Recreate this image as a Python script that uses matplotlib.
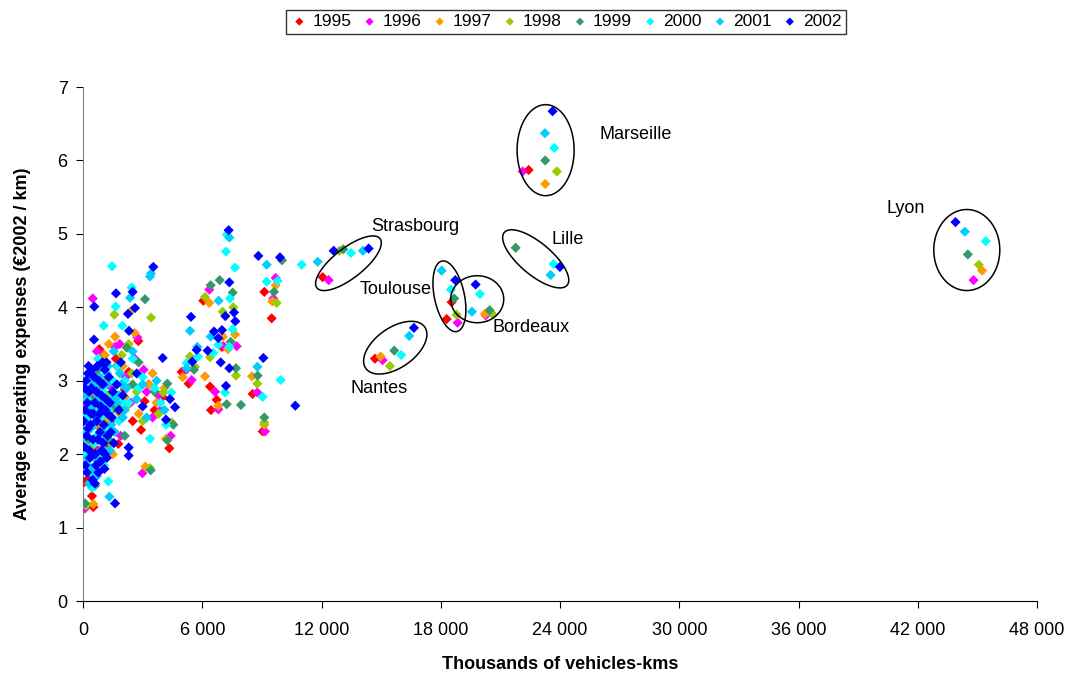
import numpy as np
import matplotlib.pyplot as plt
from matplotlib.patches import Polygon
from matplotlib.ticker import FuncFormatter

plt.rcParams['font.family'] = ['Liberation Sans', 'DejaVu Sans']

years = ['1995', '1996', '1997', '1998', '1999', '2000', '2001', '2002']
colors = ['#FF0000', '#FF00FF', '#FF9900', '#99CC00', '#339966', '#00FFFF', '#00CCFF', '#0000FF']

# (thousands of vehicle-kms, average operating expenses)
p1995 = [(60, 1.62), (285, 1.67), (450, 1.43), (520, 1.28), (700, 2.05), (900, 2.35), (1100, 2.55),
         (1300, 2.75), (1500, 2.95), (1778, 2.14), (1900, 2.62), (2100, 2.88), (2300, 3.12), (2500, 2.45),
         (2782, 3.54), (2917, 2.33), (3100, 2.72), (3300, 2.95), (3600, 2.60), (4000, 2.78), (4343, 2.08),
         (200, 2.30), (350, 2.85), (600, 3.05), (800, 1.92), (1000, 3.20), (1200, 2.15), (1650, 3.30),
         (150, 2.05), (400, 2.60), (1400, 2.45),
         (820, 3.43), (1056, 3.35), (4963, 3.12), (5315, 2.96), (6053, 4.09), (6389, 2.92), (6439, 2.60),
         (6724, 2.74), (6992, 3.46), (8535, 2.82), (9038, 2.31), (9122, 4.21), (9491, 3.85), (12056, 4.41),
         (14688, 3.30), (18294, 3.84), (18545, 4.07), (22419, 5.87)]
p1996 = [(100, 1.26), (488, 4.12), (300, 1.95), (600, 2.50), (850, 2.75), (1200, 3.10), (1450, 2.90),
         (1610, 3.46), (1900, 2.25), (2150, 3.05), (2400, 2.70), (2732, 3.59), (2985, 1.74), (3200, 2.85),
         (3500, 2.50), (3900, 2.60), (4410, 2.25), (700, 3.40), (1000, 2.20), (2600, 3.30), (3050, 3.15),
         (1850, 3.50), (3800, 2.80), (200, 2.65), (800, 2.05), (1300, 2.65),
         (5465, 3.01), (5200, 3.15), (6353, 4.24), (6640, 2.85), (6808, 2.61),
         (7076, 3.47), (7730, 3.47), (8770, 2.84), (9156, 2.31), (9575, 4.12), (9692, 4.40), (12358, 4.37),
         (15075, 3.28), (18847, 3.79), (20260, 3.89), (22117, 5.85), (44803, 4.37)]
p1997 = [(520, 1.32), (400, 2.10), (650, 2.40), (900, 2.90), (1100, 3.35), (1300, 3.50), (1610, 3.60),
         (1850, 2.55), (2100, 2.78), (2448, 3.96), (2600, 3.65), (2800, 2.55), (3136, 1.83), (3300, 2.95),
         (3500, 3.10), (3700, 2.70), (4175, 2.21), (4100, 2.90), (750, 2.20), (1500, 2.00), (2000, 3.20),
         (200, 2.75), (1200, 2.45),
         (5013, 3.05), (6137, 3.06), (6353, 4.06), (6808, 2.66), (7042, 3.60), (7294, 3.43), (7646, 3.63),
         (8501, 3.06), (9122, 2.40), (9525, 4.08), (9692, 4.30), (14974, 3.33), (20221, 3.91),
         (23255, 5.68), (45235, 4.50)]
p1998 = [(150, 1.30), (350, 1.80), (600, 2.60), (800, 3.05), (1000, 2.35), (1250, 2.80), (1576, 3.90),
         (1700, 2.95), (1950, 3.35), (2200, 2.65), (2450, 3.10), (2700, 2.85), (3000, 2.45), (3370, 1.81),
         (3420, 3.86), (3800, 2.55), (4040, 2.84), (4460, 2.43), (900, 1.80), (1400, 2.15), (2300, 3.50),
         (500, 2.15), (1100, 2.60),
         (5382, 3.33), (5633, 3.19), (6137, 4.14), (6389, 3.32), (7025, 3.94), (7562, 4.00), (7696, 3.07),
         (8770, 2.96), (9122, 2.43), (9742, 4.06), (12890, 4.77), (15442, 3.20), (18797, 3.90),
         (20590, 3.91), (23842, 5.85), (45069, 4.58)]
p1999 = [(100, 1.33), (603, 1.57), (250, 2.20), (500, 2.75), (750, 3.15), (1000, 2.60), (1200, 3.00),
         (1400, 2.40), (1700, 3.20), (1950, 2.80), (2200, 3.45), (2500, 2.95), (2800, 3.25), (3119, 4.11),
         (3404, 1.78), (3600, 2.85), (4242, 2.96), (4544, 2.40), (4242, 2.19), (900, 2.05), (1550, 2.62),
         (2100, 2.25), (350, 2.55), (800, 2.90), (1300, 2.20),
         (5583, 3.15), (6422, 4.30), (6875, 4.37), (7228, 2.68), (7428, 3.53), (7528, 4.20),
         (7696, 3.17), (7948, 2.67), (8786, 3.07), (9122, 2.50), (9609, 4.21), (10010, 4.64), (13093, 4.79),
         (15659, 3.41), (18677, 4.12), (20456, 3.96), (21765, 4.81), (23255, 6.00), (44516, 4.72)]
p2000 = [(60, 2.00), (150, 2.55), (250, 1.85), (300, 2.90), (400, 2.35), (450, 1.54), (500, 3.05),
         (600, 2.15), (650, 2.70), (750, 3.30), (800, 1.95), (900, 2.50), (1000, 2.85), (1040, 3.75),
         (1150, 2.25), (1274, 1.63), (1300, 2.60), (1459, 4.56), (1500, 3.00), (1644, 4.01), (1800, 2.45),
         (1979, 3.75), (2100, 3.00), (2300, 2.70), (2500, 3.30), (2800, 2.90), (3000, 3.05), (3370, 2.21),
         (3600, 2.90), (3900, 2.70), (4443, 2.84), (4175, 2.40), (2448, 4.27),
         (100, 2.30), (200, 2.75), (350, 2.50), (550, 2.90), (700, 2.25), (850, 2.60), (950, 2.05),
         (1100, 2.70), (1200, 3.10), (1350, 2.35), (1600, 2.75), (1750, 3.20), (2000, 2.70), (420, 1.75),
         (1050, 1.85),
         (5214, 3.24), (5784, 3.33),
         (6556, 3.38), (6808, 3.49), (7143, 2.84), (7193, 4.76), (7227, 4.99), (7394, 4.12), (7361, 3.46),
         (7528, 3.70), (7646, 4.54), (9038, 2.78), (9240, 4.35), (9792, 4.36), (9944, 3.01), (11000, 4.58),
         (13480, 4.74), (16011, 3.35), (18510, 4.24), (19969, 4.18), (23676, 4.59), (23707, 6.17),
         (45421, 4.90)]
p2001 = [(80, 2.45), (200, 2.10), (300, 2.65), (350, 3.10), (450, 1.80), (550, 2.40), (650, 2.95),
         (700, 1.70), (800, 2.25), (900, 3.20), (950, 2.60), (1100, 2.05), (1200, 2.95), (1325, 1.42),
         (1400, 2.40), (1550, 3.40), (1700, 2.70), (1850, 3.10), (2000, 2.50), (2200, 2.90), (2364, 4.13),
         (2500, 3.40), (2700, 2.75), (3000, 2.95), (3420, 4.46), (3370, 4.42), (3200, 2.50), (3700, 3.00),
         (4100, 2.60),
         (40, 2.25), (130, 2.80), (230, 1.95), (330, 2.35), (400, 3.00), (500, 2.65), (580, 1.95),
         (750, 2.75), (850, 3.05), (1000, 2.30), (1150, 2.75), (1250, 3.20), (1350, 2.05), (1450, 2.75),
         (1600, 2.30), (1800, 2.80), (1950, 2.95), (2100, 2.60), (300, 1.60), (700, 2.50),
         (5214, 3.17), (5382, 3.68), (5750, 3.46), (6422, 3.60), (6824, 4.09), (7361, 4.95),
         (8770, 3.19), (9240, 4.58), (11805, 4.62), (14084, 4.77), (16413, 3.61), (18042, 4.50),
         (19567, 3.94), (23525, 4.44), (23239, 6.37), (44365, 5.03)]
p2002 = [(50, 2.10), (100, 2.60), (150, 3.00), (200, 1.75), (250, 2.35), (300, 2.85), (350, 1.95),
         (400, 2.55), (450, 3.15), (500, 2.20), (568, 4.01), (553, 3.56), (600, 2.70), (650, 1.85),
         (700, 2.45), (771, 1.75), (800, 3.00), (850, 2.30), (900, 2.65), (950, 2.05), (1000, 2.95),
         (1050, 2.40), (1100, 3.15), (1150, 2.75), (1200, 1.95), (1250, 2.55), (1300, 3.05), (1400, 2.30),
         (1500, 2.85), (1610, 1.33), (1660, 4.19), (1800, 2.60), (1900, 3.25), (2000, 2.80), (2264, 3.91),
         (30, 2.45), (80, 2.90), (120, 1.85), (180, 2.25), (220, 2.70), (280, 3.20), (320, 2.05),
         (380, 2.40), (420, 2.90), (480, 1.65), (520, 2.55), (560, 3.05), (620, 2.00), (680, 2.85),
         (720, 3.20), (760, 2.20), (820, 2.55), (880, 1.90), (930, 2.80), (980, 3.25), (1020, 2.15),
         (1080, 1.80), (1130, 2.60), (1180, 3.25), (1230, 2.25), (1350, 2.70), (1450, 2.50), (1550, 2.15),
         (1700, 2.95), (1100, 2.00), (600, 1.60), (250, 3.10),
         (2297, 1.98), (2297, 2.09), (2314, 3.68), (2498, 4.21), (2616, 3.99), (2700, 3.10), (3000, 2.65),
         (3538, 4.55), (4007, 3.31), (4175, 2.47), (4376, 2.75), (4628, 2.64), (5432, 3.87), (5499, 3.26),
         (5717, 3.42), (6271, 3.41), (6589, 3.67), (6808, 3.58), (6925, 3.25), (6992, 3.69), (7160, 3.88),
         (7193, 2.93), (7327, 5.05), (7361, 4.34), (7361, 3.17), (7596, 3.93), (7662, 3.81), (8820, 4.70),
         (9072, 3.31), (9910, 4.68), (10680, 2.66), (12610, 4.77), (14370, 4.80), (16649, 3.72),
         (18729, 4.37), (19752, 4.31), (23993, 4.55), (23626, 6.67), (43897, 5.16)]
series = [p1995, p1996, p1997, p1998, p1999, p2000, p2001, p2002]

# city labels and ellipses: name, label pos, ellipse centre, semi-axes (px), angle
cities = ['Marseille', 'Lille', 'Lyon', 'Strasbourg', 'Toulouse', 'Bordeaux', 'Nantes']
label_pos = [(27816, 6.35), (24396, 4.93), (41397, 5.34), (16700, 5.10), (15744, 4.24), (22534, 3.72), (14889, 2.89)]
ell_centre = [(23274, 6.14), (22776, 4.66), (44465, 4.78), (13355, 4.60), (18435, 4.15), (19833, 4.11), (15709, 3.45)]
ell_axes = [(28.5, 45.5), (41, 16), (33, 40.5), (40, 15), (36, 15), (26.5, 23.5), (36, 20)]
ell_angle = [0, -40, 0, 38, 102, 0, 35]

fig = plt.figure(figsize=(10.74, 6.75), dpi=100)
ax = fig.add_axes([0.0773, 0.1096, 0.8883, 0.7615])

for pts, yr, c in zip(series, years, colors):
    xs = [p[0] for p in pts]
    ys = [p[1] for p in pts]
    ax.scatter(xs, ys, marker='D', s=27, color=c, edgecolors='none', label=yr, zorder=3)

# px -> data scale
sx = 48000 / 954
sy = 7 / 514
t = np.linspace(0, 2 * np.pi, 200, endpoint=False)
for (cx, cy), (a, b), ang in zip(ell_centre, ell_axes, ell_angle):
    th = np.radians(ang)
    u = a * np.cos(t)
    v = b * np.sin(t)
    px = u * np.cos(th) - v * np.sin(th)
    py = u * np.sin(th) + v * np.cos(th)
    verts = np.column_stack([cx + px * sx, cy + py * sy])
    ax.add_patch(Polygon(verts, closed=True, fill=False, edgecolor='black', lw=1.1, zorder=4))

for name, (lx, ly) in zip(cities, label_pos):
    ax.text(lx, ly, name, fontsize=13, ha='center', va='center')

ax.set_xlim(0, 48000)
ax.set_ylim(0, 7)
ax.set_xticks(np.arange(0, 48001, 6000))
ax.set_yticks(np.arange(0, 8, 1))
ax.xaxis.set_major_formatter(FuncFormatter(lambda v, p: f'{int(v):,}'.replace(',', ' ')))
ax.tick_params(axis='both', labelsize=13, direction='out', length=5, color='black')
ax.tick_params(axis='x', pad=10)
ax.tick_params(axis='y', pad=6)
for s in ['top', 'right']:
    ax.spines[s].set_visible(False)
ax.spines['left'].set_color('#808080')
ax.spines['bottom'].set_color('black')

ax.set_xlabel('Thousands of vehicles-kms', fontsize=13, fontweight='bold', labelpad=12)
ax.set_ylabel('Average operating expenses (€2002 / km)', fontsize=13, fontweight='bold', labelpad=19)

leg = fig.legend(loc='center', bbox_to_anchor=(0.527, 0.968), ncol=8, fontsize=12.5, frameon=True,
                 fancybox=False, edgecolor='black', handletextpad=0.25, columnspacing=0.55,
                 borderpad=0.25, borderaxespad=0, markerscale=0.8, scatterpoints=1, handlelength=1.0)
leg.get_frame().set_linewidth(1.0)

fig.savefig('out.png', dpi=100)
